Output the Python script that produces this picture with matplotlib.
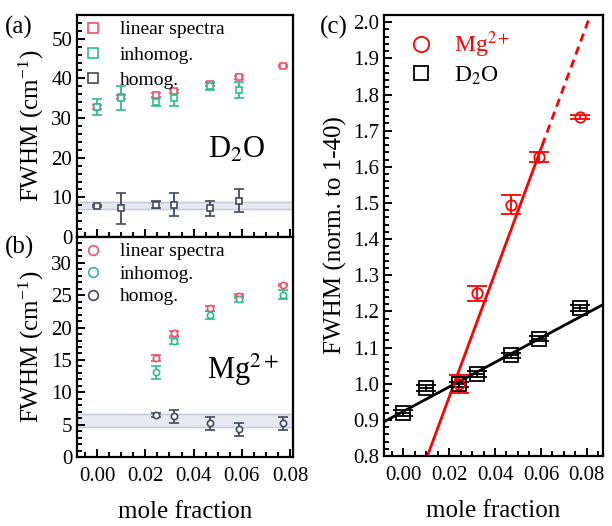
import numpy as np
import matplotlib
matplotlib.use("Agg")
import matplotlib.pyplot as plt
from matplotlib.lines import Line2D
from matplotlib.ticker import MultipleLocator

plt.rcParams['font.family'] = ['Liberation Serif', 'DejaVu Serif']
plt.rcParams['mathtext.fontset'] = 'stix'

# ---------------- data ----------------
# panel (a) D2O
x_a = [0.0, 0.01, 0.0245, 0.032, 0.047, 0.059, 0.077]
lin_a = [32.9, 35.4, 35.8, 36.8, 38.5, 40.3, 43.2]
lin_a_err = [0.5, 0.5, 0.4, 0.4, 0.4, 0.4, 0.3]
x_a_inh = [0.0, 0.01, 0.0245, 0.032, 0.047, 0.059]
inh_a = [32.9, 35.0, 34.0, 35.0, 38.2, 37.0]
inh_a_err = [2.0, 3.0, 1.0, 2.0, 1.0, 2.0]
hom_a = [7.8, 7.2, 8.2, 8.2, 7.2, 9.2]
hom_a_err = [0.3, 4.0, 1.0, 3.0, 2.0, 3.0]
band_a = (7.0, 8.9)

# panel (b) Mg2+
x_b = [0.0245, 0.032, 0.047, 0.059, 0.077]
lin_b = [15.3, 19.1, 23.0, 24.9, 26.6]
lin_b_err = [0.4, 0.4, 0.4, 0.3, 0.2]
inh_b = [13.1, 17.9, 21.9, 24.4, 25.1]
inh_b_err = [1.0, 0.5, 0.6, 0.4, 0.7]
hom_b = [6.5, 6.3, 5.2, 4.3, 5.2]
hom_b_err = [0.3, 1.0, 1.0, 1.0, 1.0]
band_b = (4.6, 6.7)

# panel (c) normalised
x_c_mg = [0.0245, 0.032, 0.047, 0.059, 0.077]
mg_c = [1.0, 1.25, 1.495, 1.627, 1.737]
mg_c_err = [0.025, 0.02, 0.026, 0.013, 0.006]
x_c_d2o = [0.0, 0.01, 0.0245, 0.032, 0.047, 0.059, 0.077]
d2o_c = [0.918, 0.988, 0.998, 1.027, 1.078, 1.125, 1.21]
d2o_c_err = [0.008, 0.008, 0.008, 0.008, 0.008, 0.008, 0.008]
d2o_c_xerr = [0.003, 0.003, 0.003, 0.003, 0.003, 0.003, 0.003]
fit_mg = (17.2, 0.618)     # slope, intercept
fit_d2o = (3.40, 0.923)
mg_fit_end = 0.0605

xticks_ab = [0.0, 0.02, 0.04, 0.06, 0.08]

C_LIN = '#f0506e'
C_INH = '#2dbd8c'
C_HOM = '#404a60'
C_BAND = '#e6e9ef'
C_BAND_EDGE = '#c4cad6'

TICK_FS = 15
LAB_FS = 18
LEG_FS = 14

fig = plt.figure(figsize=(6.12, 5.26), dpi=100)
ax_a = fig.add_axes([0.1258, 0.5494, 0.3530, 0.4221])
ax_b = fig.add_axes([0.1258, 0.1312, 0.3530, 0.4183])
ax_c = fig.add_axes([0.6275, 0.1331, 0.3578, 0.8384])


def style(ax):
    for s in ax.spines.values():
        s.set_linewidth(1.6)
    ax.tick_params(direction='in', which='both', top=False, right=False,
                   labelsize=TICK_FS, width=1.4)
    ax.tick_params(which='major', length=6)
    ax.tick_params(which='minor', length=3.5)


ebkw = dict(ls='none', ms=4.5, mfc='white', mew=1.2, capsize=3.5, elinewidth=1.3, capthick=1.3)

# (a)
ax_a.axhspan(*band_a, color=C_BAND, zorder=0)
for yv in band_a:
    ax_a.axhline(yv, color=C_BAND_EDGE, lw=1.0, zorder=0.5)
ax_a.errorbar(x_a, lin_a, yerr=lin_a_err, marker='s', color=C_LIN, **ebkw)
ax_a.errorbar(x_a_inh, inh_a, yerr=inh_a_err, marker='s', color=C_INH, **ebkw)
ax_a.errorbar(x_a[:6], hom_a, yerr=hom_a_err, marker='s', color=C_HOM, **ebkw)
ax_a.set_xlim(-0.0083, 0.0812)
ax_a.set_ylim(0, 56)
ax_a.set_xticks(xticks_ab)
ax_a.set_xticklabels([])
ax_a.xaxis.set_minor_locator(MultipleLocator(0.005))
ax_a.yaxis.set_major_locator(MultipleLocator(10))
ax_a.yaxis.set_minor_locator(MultipleLocator(2))
style(ax_a)
ax_a.set_ylabel('FWHM (cm$^{\\mathregular{-1}}$)', fontsize=LAB_FS, labelpad=4)
ax_a.text(0.058, 22, 'D$_2$O', fontsize=22, ha='center', va='center')
h = [Line2D([], [], ls='none', marker='s', ms=7, mfc='white', mec=c, mew=1.2)
     for c in (C_LIN, C_INH, C_HOM)]
ax_a.legend(h, ['linear spectra', 'inhomog.', 'homog.'], loc='upper left', frameon=False,
            fontsize=LEG_FS, handlelength=1.0, handletextpad=0.9, labelspacing=0.4,
            borderaxespad=0.1, borderpad=0.2)

# (b)
ax_b.axhspan(*band_b, color=C_BAND, zorder=0)
for yv in band_b:
    ax_b.axhline(yv, color=C_BAND_EDGE, lw=1.0, zorder=0.5)
ax_b.errorbar(x_b, lin_b, yerr=lin_b_err, marker='o', color=C_LIN, **ebkw)
ax_b.errorbar(x_b, inh_b, yerr=inh_b_err, marker='o', color=C_INH, **ebkw)
ax_b.errorbar(x_b, hom_b, yerr=hom_b_err, marker='o', color=C_HOM, **ebkw)
ax_b.set_xlim(-0.0083, 0.0812)
ax_b.set_ylim(0, 34)
ax_b.set_xticks(xticks_ab)
ax_b.set_xticklabels(['%.2f' % v for v in xticks_ab])
ax_b.xaxis.set_minor_locator(MultipleLocator(0.005))
ax_b.yaxis.set_major_locator(MultipleLocator(5))
ax_b.yaxis.set_minor_locator(MultipleLocator(1))
style(ax_b)
ax_b.tick_params(axis='x', pad=7)
ax_b.set_ylabel('FWHM (cm$^{\\mathregular{-1}}$)', fontsize=LAB_FS, labelpad=4)
ax_b.set_xlabel('mole fraction', fontsize=LAB_FS, labelpad=11)
ax_b.text(0.0605, 13.5, 'Mg$^{2+}$', fontsize=22, ha='center', va='center')
h = [Line2D([], [], ls='none', marker='o', ms=7, mfc='white', mec=c, mew=1.2)
     for c in (C_LIN, C_INH, C_HOM)]
ax_b.legend(h, ['linear spectra', 'inhomog.', 'homog.'], loc='upper left', frameon=False,
            fontsize=LEG_FS, handlelength=1.0, handletextpad=0.9, labelspacing=0.25,
            borderaxespad=0.1, borderpad=0.2)

# (c)
xl = (-0.0083, 0.087)
xx = np.linspace(xl[0], xl[1], 200)
ax_c.plot(xx, fit_d2o[0] * xx + fit_d2o[1], color='black', lw=2, zorder=2)
xs = np.linspace(xl[0], mg_fit_end, 100)
ax_c.plot(xs, fit_mg[0] * xs + fit_mg[1], color='#ff0000', lw=2, zorder=2)
xd = np.linspace(mg_fit_end, xl[1], 100)
ax_c.plot(xd, fit_mg[0] * xd + fit_mg[1], color='#ff0000', lw=2, ls=(0, (3, 2)), zorder=2)
ax_c.errorbar(x_c_mg, mg_c, yerr=mg_c_err, marker='o', ms=7.5, mfc='none', mec='#ff0000',
              color='#ff0000', ls='none', capsize=7, elinewidth=1.3, capthick=1.3, mew=1.3, zorder=3)
ax_c.errorbar(x_c_d2o, d2o_c, xerr=d2o_c_xerr, fmt='none', ecolor='black', capsize=0,
              elinewidth=1.3, zorder=3)
ax_c.errorbar(x_c_d2o, d2o_c, yerr=d2o_c_err, marker='s', ms=10.5, mfc='none', mec='black',
              color='black', ls='none', capsize=7.5, elinewidth=1.3, capthick=1.3, mew=1.3, zorder=3)
ax_c.set_xlim(*xl)
ax_c.set_ylim(0.8, 2.02)
ax_c.set_xticks(xticks_ab)
ax_c.set_xticklabels(['%.2f' % v for v in xticks_ab])
ax_c.xaxis.set_minor_locator(MultipleLocator(0.005))
ax_c.yaxis.set_major_locator(MultipleLocator(0.1))
ax_c.yaxis.set_minor_locator(MultipleLocator(0.02))
ax_c.yaxis.set_major_formatter(matplotlib.ticker.FormatStrFormatter('%.1f'))
style(ax_c)
ax_c.tick_params(axis='x', pad=7)
ax_c.set_ylabel('FWHM (norm. to 1-40)', fontsize=LAB_FS, labelpad=4)
ax_c.set_xlabel('mole fraction', fontsize=LAB_FS, labelpad=11)
h = [Line2D([], [], ls='none', marker='o', ms=11, mfc='none', mec='#ff0000', mew=1.3),
     Line2D([], [], ls='none', marker='s', ms=10, mfc='none', mec='black', mew=1.3)]
leg = ax_c.legend(h, ['Mg$^{2+}$', 'D$_2$O'], loc='upper left', frameon=False,
                  fontsize=17, handlelength=1.0, handletextpad=0.9, labelspacing=0.2,
                  borderaxespad=0.3, borderpad=0.3, bbox_to_anchor=(0.05, 1.0))
leg.get_texts()[0].set_color('#ff0000')

fig.text(0.008, 0.948, '(a)', fontsize=18, va='center', ha='left')
fig.text(0.008, 0.530, '(b)', fontsize=18, va='center', ha='left')
fig.text(0.522, 0.948, '(c)', fontsize=18, va='center', ha='left')

fig.savefig('out.png', dpi=100)
